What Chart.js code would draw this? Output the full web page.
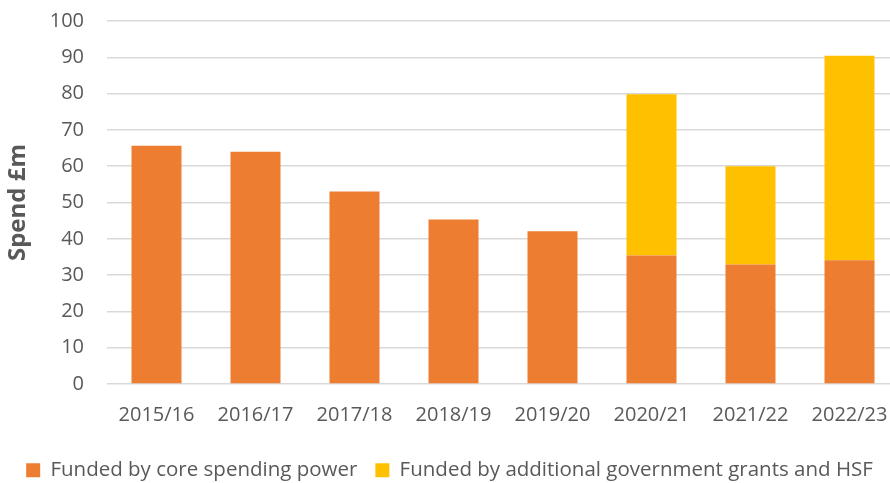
<!DOCTYPE html>
<html>
<head>
<meta charset="utf-8">
<script src="https://cdn.jsdelivr.net/npm/chart.js@4/dist/chart.umd.min.js"></script>
<style>
  html, body { margin: 0; padding: 0; background: #fff; overflow: hidden; }
  #wrap { width: 890px; height: 483px; overflow: hidden; }
</style>
</head>
<body>
<div id="wrap"><canvas id="spendChart" width="899" height="483"></canvas></div>
<script>
// Spend per year, £m
var years = ['2015/16', '2016/17', '2017/18', '2018/19', '2019/20', '2020/21', '2021/22', '2022/23'];
var coreSpending = [65.6, 64.0, 53.0, 45.3, 42.1, 35.4, 32.9, 34.1];
var additionalGrants = [0, 0, 0, 0, 0, 44.4, 27.1, 56.3];

var grey = '#595959';
var fontFamily = "'Open Sans', 'Noto Sans', sans-serif";

// keep the legend box short so it sits near the bottom edge
var legendHeight = {
  id: 'legendHeight',
  beforeInit: function (chart) {
    var fit = chart.legend.fit;
    chart.legend.fit = function () {
      fit.call(this);
      this.height = 41;
    };
  }
};

var ctx = document.getElementById('spendChart');

var spendChart = new Chart(ctx, {
  type: 'bar',
  data: {
    labels: years,
    datasets: [{
      label: 'Funded by core spending power',
      data: coreSpending,
      backgroundColor: '#ED7D31',
      categoryPercentage: 1,
      barPercentage: 0.505
    }, {
      label: 'Funded by additional government grants and HSF',
      data: additionalGrants,
      backgroundColor: '#FFC000',
      categoryPercentage: 1,
      barPercentage: 0.505
    }]
  },
  plugins: [legendHeight],
  options: {
    responsive: false,
    animation: false,
    layout: { padding: { top: 21, left: 0, right: 0, bottom: 0 } },
    plugins: {
      tooltip: { enabled: false },
      legend: {
        position: 'bottom',
        labels: {
          color: grey,
          font: { family: fontFamily, size: 20.5 },
          boxWidth: 14,
          boxHeight: 14,
          padding: 18
        }
      }
    },
    scales: {
      x: {
        stacked: true,
        afterFit: function (scale) { scale.height = 58; },
        // invisible tick marks push the labels down without padding the chart area
        grid: { color: 'transparent', drawTicks: true, tickLength: 19 },
        border: { display: false },
        ticks: {
          color: grey,
          font: { family: fontFamily, size: 20 },
          padding: 0,
          maxRotation: 0
        }
      },
      y: {
        stacked: true,
        min: 0,
        max: 100,
        afterFit: function (scale) { scale.width = 107; },
        grid: { color: '#d9d9d9', lineWidth: 1.5, drawTicks: true, tickLength: 23, tickColor: 'transparent' },
        border: { display: false },
        ticks: {
          stepSize: 10,
          color: grey,
          font: { family: fontFamily, size: 20 },
          padding: 0
        },
        title: {
          display: true,
          text: 'Spend £m',
          color: grey,
          font: { family: fontFamily, size: 24, weight: 'bold' },
          padding: { top: 4, bottom: 0 }
        }
      }
    }
  }
});
</script>
</body>
</html>
